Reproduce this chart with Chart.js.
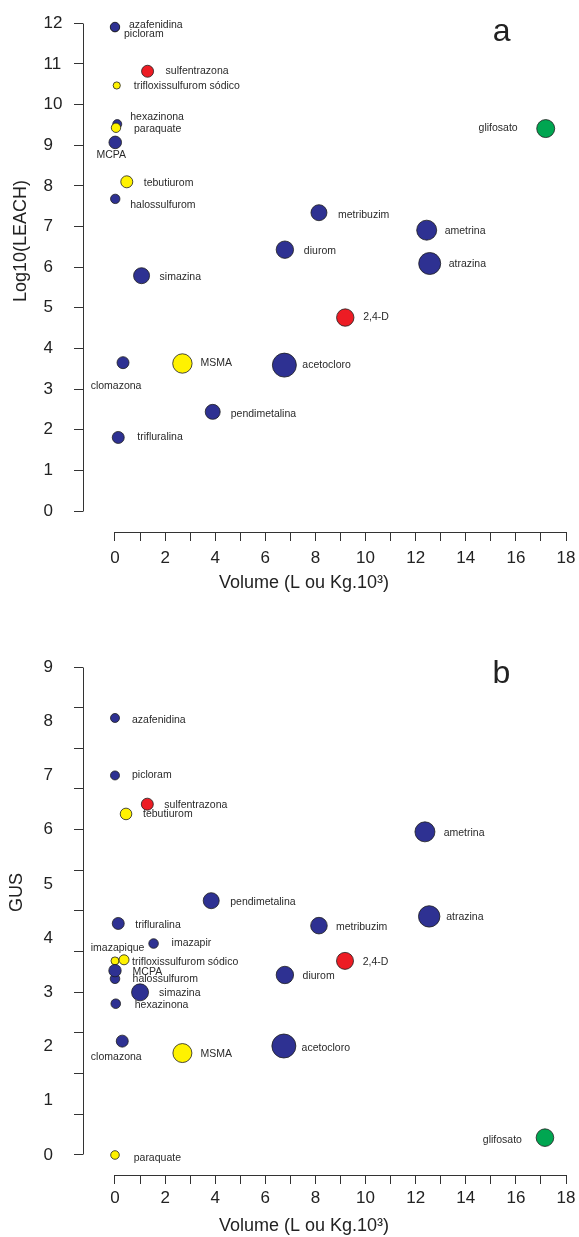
<!DOCTYPE html>
<html><head><meta charset="utf-8">
<script src="https://cdn.jsdelivr.net/npm/chart.js@4/dist/chart.umd.min.js"></script>
<style>
html,body{margin:0;padding:0;background:#fff;width:579px;height:1237px;overflow:hidden}
canvas{position:absolute;left:0;display:block}
#cA{top:0;width:579px;height:610px}
#cB{top:610px;width:579px;height:627px}
</style></head><body>
<canvas id="cA" width="579" height="610"></canvas>
<canvas id="cB" width="579" height="627"></canvas>
<script>
// ---------- data ----------
const xTickValues = [0,1,2,3,4,5,6,7,8,9,10,11,12,13,14,15,16,17,18];

// panel a : Log10(LEACH) vs volume
const namesA  = ['picloram','azafenidina','sulfentrazona','trifloxissulfurom sódico','hexazinona','paraquate','MCPA','tebutiurom','halossulfurom','simazina','clomazona','MSMA','acetocloro','pendimetalina','trifluralina','metribuzim','diurom','ametrina','atrazina','2,4-D','glifosato'];
const volumeA = [0.00,0.00,1.30,0.07,0.09,0.04,0.01,0.47,0.01,1.06,0.32,2.69,6.76,3.90,0.13,8.14,6.78,12.44,12.56,9.19,17.19];
const leachA  = [11.90,11.91,10.82,10.47,9.52,9.43,9.07,8.10,7.68,5.79,3.65,3.63,3.59,2.44,1.81,7.34,6.43,6.91,6.09,4.76,9.41];
const yTickValuesA = [0,1,2,3,4,5,6,7,8,9,10,11,12];

// panel b : GUS vs volume
const namesB  = ['azafenidina','picloram','sulfentrazona','tebutiurom','pendimetalina','trifluralina','imazapir','imazapique','trifloxissulfurom sódico','halossulfurom','MCPA','simazina','hexazinona','clomazona','MSMA','paraquate','ametrina','atrazina','metribuzim','2,4-D','diurom','acetocloro','glifosato'];
const volumeB = [0.00,0.00,1.29,0.44,3.84,0.13,1.54,0.00,0.36,0.00,0.00,1.00,0.03,0.29,2.69,0.00,12.37,12.54,8.14,9.18,6.78,6.74,17.16];
const gusB    = [8.06,7.00,6.47,6.29,4.69,4.27,3.90,3.58,3.60,3.25,3.40,3.00,2.79,2.10,1.88,0.00,5.96,4.40,4.23,3.58,3.32,2.01,0.32];
const yLabelValuesB = [0,1,2,3,4,5,6,7,8,9];
const yMarkValuesB  = [0,0.75,1.5,2.25,3,3.75,4.5,5.25,6,6.75,7.5,8.25,9];

// ---------- styles ----------
const groupOf = {'sulfentrazona':'red','2,4-D':'red','trifloxissulfurom sódico':'yellow','paraquate':'yellow','tebutiurom':'yellow','MSMA':'yellow','imazapique':'yellow','glifosato':'green'};
const fills = {blue:'#2E3192', red:'#ED1C24', yellow:'#FFF200', green:'#00A651'};
const radiiA = [4.5,4.7,6,3.6,4.5,4.7,6.3,6,4.7,8,6,9.7,12,7.5,6,8,8.7,10,11,8.7,9];
const radiiB = [4.5,4.5,6,5.8,8,6,4.8,4,5,4.8,6.2,8.5,4.8,6,9.5,4.3,10,10.7,8.3,8.5,8.7,12,8.8];
const labelPosA = [[9,6.5,'left'],[14,-2,'left'],[18,0,'left'],[17,1,'left'],[13,-7,'left'],[18,1,'left'],[-4,13,'center'],[17,1,'left'],[15,6,'left'],[18,1,'left'],[-7,23,'center'],[18,0,'left'],[18,0,'left'],[18,2,'left'],[19,0,'left'],[19,2,'left'],[19,1,'left'],[18,1,'left'],[19,1,'left'],[18,0,'left'],[-28,0,'right']];
const labelPosB = [[17,2,'left'],[17,0,'left'],[17,1,'left'],[17,0,'left'],[19,1,'left'],[17,2,'left'],[18,0,'left'],[2.6,-13,'center'],[8,2,'left'],[17.6,0,'left'],[17.6,1,'left'],[19,1,'left'],[19,1,'left'],[-6,16,'center'],[18,1,'left'],[18.7,3,'left'],[18.7,1,'left'],[17,1,'left'],[17,1,'left'],[17.7,1,'left'],[17.7,1,'left'],[17.7,2,'left'],[-23,2,'right']];

const FONT = "'Liberation Sans', Arial, Helvetica, sans-serif";
const AXIS = '#333333';

function alignPx(p){ return Math.round(p - 0.5) + 0.5; }

const decorPlugin = {
  id: 'decor',
  afterDatasetsDraw(chart, args, o) {
    const ctx = chart.ctx;
    const xs = chart.scales.x, ys = chart.scales.y;
    const ca = chart.chartArea;
    ctx.save();
    // axis lines (offset style)
    ctx.strokeStyle = AXIS; ctx.lineWidth = 1;
    ctx.beginPath();
    const yb = alignPx(ca.bottom);
    ctx.moveTo(alignPx(xs.getPixelForValue(o.xFrom)), yb);
    ctx.lineTo(alignPx(xs.getPixelForValue(o.xTo)), yb);
    const xl = alignPx(ca.left);
    ctx.moveTo(xl, alignPx(ys.getPixelForValue(o.yTo)));
    ctx.lineTo(xl, alignPx(ys.getPixelForValue(o.yFrom)));
    ctx.stroke();
    // point labels
    const meta = chart.getDatasetMeta(0);
    ctx.fillStyle = '#2a2a2a';
    ctx.font = '10.5px ' + FONT;
    ctx.textBaseline = 'middle';
    meta.data.forEach((el, i) => {
      const p = o.labelPos[i];
      ctx.textAlign = p[2];
      ctx.fillText(o.names[i], el.x + p[0], el.y + p[1]);
    });
    // axis titles
    ctx.fillStyle = '#222';
    ctx.font = '18px ' + FONT;
    ctx.textAlign = 'center';
    ctx.textBaseline = 'middle';
    ctx.fillText(o.xTitle, o.xTitlePos[0], o.xTitlePos[1]);
    ctx.save();
    ctx.translate(o.yTitlePos[0], o.yTitlePos[1]);
    ctx.rotate(-Math.PI / 2);
    ctx.fillText(o.yTitle, 0, 0);
    ctx.restore();
    // panel letter
    ctx.font = '32px ' + FONT;
    ctx.textBaseline = 'alphabetic';
    ctx.fillText(o.panel, o.panelPos[0], o.panelPos[1]);
    ctx.restore();
  }
};

function makeChart(id, names, xs, ys, radii, labelPos, cfg) {
  const tickFont = {family: FONT, size: 17};
  return new Chart(document.getElementById(id), {
    type: 'scatter',
    data: {datasets: [{
      data: names.map((n, i) => ({x: xs[i], y: ys[i]})),
      pointRadius: radii, pointHoverRadius: radii,
      backgroundColor: names.map(n => fills[groupOf[n] || 'blue']),
      borderColor: '#1e1e1e', borderWidth: 0.8, clip: false
    }]},
    options: {
      responsive: false, animation: false, events: [],
      layout: {padding: {left: 43.5, top: cfg.padTop, right: 13, bottom: 0}},
      plugins: {legend: {display: false}, tooltip: {enabled: false}, decor: Object.assign({names, labelPos}, cfg.decor)},
      scales: {
        x: {
          type: 'linear', position: 'bottom', min: cfg.xMin, max: 18,
          afterBuildTicks: s => { s.ticks = xTickValues.map(v => ({value: v})); },
          afterFit: s => { s.height = cfg.xHeight; s.paddingLeft = 0; s.paddingRight = 0; },
          border: {display: false},
          grid: {drawOnChartArea: false, drawTicks: true, tickLength: 9, color: AXIS, lineWidth: 1},
          ticks: {autoSkip: false, maxRotation: 0, minRotation: 0, padding: cfg.xPad, font: tickFont, color: '#222',
                  callback: v => (v % 2 === 0 ? String(v) : '')}
        },
        y: {
          type: 'linear', position: 'left', min: cfg.yMin, max: cfg.yMax,
          afterBuildTicks: s => { s.ticks = cfg.yTicks.map(v => ({value: v})); },
          afterFit: s => { s.width = 39.5; s.paddingTop = 0; s.paddingBottom = 0; },
          border: {display: false},
          grid: {drawOnChartArea: false, drawTicks: true, tickLength: 9, lineWidth: 1,
                 color: c => (cfg.isMark(c.tick.value) ? AXIS : 'rgba(0,0,0,0)')},
          ticks: {autoSkip: false, crossAlign: 'far', padding: 10, font: tickFont, color: '#222',
                  callback: v => (cfg.isLabel(v) ? String(v) : '')}
        }
      }
    },
    plugins: [decorPlugin]
  });
}

makeChart('cA', namesA, volumeA, leachA, radiiA, labelPosA, {
  padTop: 23.3, xMin: -1.277, yMin: -0.516, yMax: 12, xHeight: 78, xPad: 7.4,
  yTicks: yTickValuesA, isMark: v => true, isLabel: v => true,
  decor: {xFrom: 0, xTo: 18, yFrom: 0, yTo: 12,
          xTitle: 'Volume (L ou Kg.10³)', xTitlePos: [304, 583],
          yTitle: 'Log10(LEACH)', yTitlePos: [21.5, 241],
          panel: 'a', panelPos: [501.7, 40.7]}
});

const yTicksB = Array.from(new Set(yLabelValuesB.concat(yMarkValuesB))).sort((a, b) => a - b);
makeChart('cB', namesB, volumeB, gusB, radiiB, labelPosB, {
  padTop: 57, xMin: -1.277, yMin: -0.369, yMax: 9, xHeight: 62, xPad: 4,
  yTicks: yTicksB,
  isMark: v => yMarkValuesB.some(m => Math.abs(m - v) < 1e-6),
  isLabel: v => yLabelValuesB.some(m => Math.abs(m - v) < 1e-6),
  decor: {xFrom: 0, xTo: 18, yFrom: 0, yTo: 9,
          xTitle: 'Volume (L ou Kg.10³)', xTitlePos: [304, 616],
          yTitle: 'GUS', yTitlePos: [17, 282.5],
          panel: 'b', panelPos: [501.3, 73.3]}
});
</script>
</body></html>
